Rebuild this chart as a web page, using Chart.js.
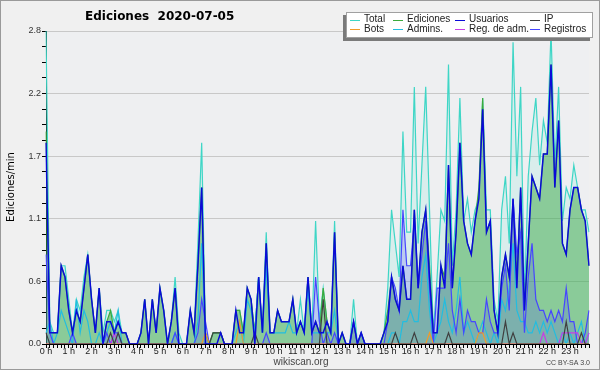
<!DOCTYPE html>
<html>
<head>
<meta charset="utf-8">
<script src="https://cdn.jsdelivr.net/npm/chart.js@4.4.1/dist/chart.umd.min.js"></script>
<style>
html, body { margin: 0; padding: 0; background: #f0f0f0; }
canvas { display: block; }
</style>
</head>
<body>
<canvas id="myLineChart" width="600" height="370"></canvas>
<script>
// etiquetas del eje x (una por hora)
const horas = ['0 h', '1 h', '2 h', '3 h', '4 h', '5 h', '6 h', '7 h', '8 h', '9 h', '10 h', '11 h',
    '12 h', '13 h', '14 h', '15 h', '16 h', '17 h', '18 h', '19 h', '20 h', '21 h', '22 h', '23 h'];
const minutos = ['00', '10', '20', '30', '40', '50'];
// etiquetas del eje y
const yLabels = ['0.0', '0.6', '1.1', '1.7', '2.2', '2.8'];
const yMax = 2.8;

// ediciones por minuto, un valor cada 10 minutos (6 por hora)
const total = [
    2.8, 0.2, 0.1, 0.1, 0.7, 0.7,
    0.4, 0.1, 0.4, 0.3, 0.6, 0.8,
    0.4, 0.1, 0.5, 0.1, 0.3, 0.3,
    0.2, 0.3, 0.1, 0.1, 0.0, 0.0,
    0.0, 0.1, 0.4, 0.0, 0.4, 0.1,
    0.5, 0.3, 0.0, 0.2, 0.6, 0.1,
    0.0, 0.0, 0.3, 0.1, 0.9, 1.8,
    0.1, 0.0, 0.1, 0.1, 0.1, 0.0,
    0.0, 0.0, 0.3, 0.3, 0.1, 0.5,
    0.4, 0.1, 0.6, 0.1, 1.0, 0.1,
    0.1, 0.3, 0.2, 0.2, 0.2, 0.4,
    0.1, 0.4, 0.1, 0.6, 0.1, 1.1,
    0.2, 0.5, 0.2, 0.1, 1.1, 0.0,
    0.1, 0.0, 0.0, 0.4, 0.0, 0.1,
    0.0, 0.0, 0.0, 0.0, 0.0, 0.1,
    0.5, 1.2, 0.9, 0.6, 1.9, 1.0,
    1.0, 2.3, 0.9, 1.6, 2.3, 1.2,
    0.1, 0.6, 1.2, 1.1, 2.5, 0.7,
    1.2, 2.2, 1.1, 1.3, 1.0, 1.2,
    1.3, 2.2, 1.2, 1.2, 0.4, 0.2,
    1.2, 1.5, 0.9, 2.7, 1.5, 2.3,
    0.4, 1.5, 1.9, 2.2, 1.6, 2.0,
    1.8, 2.8, 1.6, 2.3, 1.1, 1.4,
    1.3, 1.6, 1.4, 1.2, 1.2, 1.0
];
const ediciones = [
    1.9, 0.1, 0.1, 0.1, 0.7, 0.6,
    0.3, 0.1, 0.3, 0.2, 0.5, 0.8,
    0.4, 0.1, 0.5, 0.0, 0.2, 0.3,
    0.1, 0.2, 0.1, 0.1, 0.0, 0.0,
    0.0, 0.1, 0.4, 0.0, 0.4, 0.1,
    0.5, 0.3, 0.0, 0.2, 0.5, 0.0,
    0.0, 0.0, 0.3, 0.1, 0.7, 1.4,
    0.1, 0.0, 0.1, 0.1, 0.1, 0.0,
    0.0, 0.0, 0.3, 0.3, 0.1, 0.5,
    0.4, 0.1, 0.6, 0.1, 0.9, 0.1,
    0.1, 0.3, 0.2, 0.2, 0.2, 0.4,
    0.1, 0.2, 0.1, 0.6, 0.1, 0.2,
    0.1, 0.5, 0.2, 0.1, 1.0, 0.0,
    0.1, 0.0, 0.0, 0.2, 0.0, 0.1,
    0.0, 0.0, 0.0, 0.0, 0.0, 0.1,
    0.3, 0.6, 0.4, 0.3, 0.7, 0.4,
    0.4, 1.2, 0.5, 1.0, 1.2, 0.7,
    0.1, 0.1, 0.7, 0.6, 1.6, 0.5,
    1.0, 1.8, 1.1, 0.9, 0.8, 1.1,
    1.4, 2.2, 1.0, 1.1, 0.3, 0.1,
    0.6, 0.8, 0.6, 1.3, 0.6, 1.4,
    0.3, 0.9, 1.5, 1.4, 1.3, 1.7,
    1.7, 2.5, 1.4, 2.0, 0.9, 0.8,
    1.2, 1.4, 1.4, 1.2, 1.1, 0.7
];
const usuarios = [
    1.8, 0.1, 0.1, 0.1, 0.7, 0.6,
    0.3, 0.1, 0.3, 0.2, 0.5, 0.8,
    0.4, 0.1, 0.5, 0.0, 0.2, 0.2,
    0.1, 0.2, 0.1, 0.1, 0.0, 0.0,
    0.0, 0.1, 0.4, 0.0, 0.4, 0.1,
    0.5, 0.3, 0.0, 0.2, 0.5, 0.0,
    0.0, 0.0, 0.3, 0.1, 0.7, 1.4,
    0.0, 0.0, 0.0, 0.0, 0.1, 0.0,
    0.0, 0.0, 0.3, 0.1, 0.1, 0.5,
    0.4, 0.0, 0.6, 0.1, 0.9, 0.1,
    0.1, 0.3, 0.2, 0.2, 0.2, 0.4,
    0.1, 0.2, 0.1, 0.6, 0.1, 0.2,
    0.1, 0.1, 0.2, 0.1, 1.0, 0.0,
    0.1, 0.0, 0.0, 0.2, 0.0, 0.1,
    0.0, 0.0, 0.0, 0.0, 0.0, 0.1,
    0.2, 0.6, 0.4, 0.3, 0.7, 0.4,
    0.4, 1.2, 0.5, 1.0, 1.2, 0.6,
    0.1, 0.1, 0.7, 0.5, 1.6, 0.5,
    1.0, 1.8, 1.1, 0.9, 0.8, 1.1,
    1.3, 2.1, 1.0, 1.1, 0.3, 0.1,
    0.6, 0.8, 0.6, 1.3, 0.5, 1.4,
    0.3, 0.9, 1.5, 1.4, 1.3, 1.7,
    1.7, 2.5, 1.4, 2.0, 0.9, 0.8,
    1.2, 1.4, 1.4, 1.2, 1.1, 0.7
];
const ip = [
    0.1, 0, 0, 0, 0, 0,
    0, 0, 0, 0, 0, 0,
    0, 0, 0, 0, 0, 0.1,
    0, 0.1, 0, 0, 0, 0,
    0, 0, 0, 0, 0, 0,
    0, 0, 0, 0, 0, 0,
    0, 0, 0, 0, 0, 0,
    0, 0, 0.1, 0.1, 0.1, 0,
    0, 0, 0, 0, 0, 0,
    0, 0.1, 0, 0, 0, 0,
    0, 0, 0, 0, 0, 0,
    0, 0, 0, 0, 0, 0,
    0, 0.4, 0, 0, 0, 0,
    0, 0, 0, 0, 0, 0,
    0, 0, 0, 0, 0, 0,
    0, 0, 0.1, 0, 0, 0,
    0, 0.1, 0, 0, 0, 0,
    0, 0, 0, 0, 0.1, 0,
    0, 0, 0, 0, 0, 0,
    0, 0, 0, 0, 0, 0,
    0, 0.2, 0, 0.1, 0, 0,
    0, 0, 0, 0, 0, 0,
    0, 0, 0, 0, 0, 0.2,
    0, 0, 0, 0.1, 0, 0
];
const bots = [
    0, 0, 0, 0, 0, 0,
    0, 0, 0, 0, 0, 0,
    0, 0, 0, 0, 0, 0,
    0, 0, 0, 0, 0, 0,
    0, 0, 0, 0, 0, 0,
    0, 0, 0, 0, 0, 0,
    0, 0, 0, 0, 0, 0,
    0.1, 0, 0, 0, 0, 0,
    0, 0, 0, 0.2, 0, 0,
    0, 0, 0, 0, 0, 0,
    0, 0, 0, 0, 0, 0,
    0, 0, 0, 0, 0, 0,
    0, 0, 0, 0, 0, 0,
    0, 0, 0, 0, 0, 0,
    0, 0, 0, 0, 0, 0,
    0, 0, 0, 0, 0, 0,
    0, 0, 0, 0, 0, 0.1,
    0, 0, 0, 0, 0, 0,
    0, 0, 0, 0, 0, 0,
    0.1, 0.1, 0, 0, 0, 0,
    0, 0, 0, 0, 0, 0,
    0, 0, 0, 0, 0, 0,
    0, 0, 0, 0, 0, 0,
    0, 0, 0, 0, 0, 0
];
const admins = [
    0.1, 0.2, 0.0, 0.1, 0.3, 0.2,
    0.1, 0.0, 0.4, 0.1, 0.3, 0.2,
    0.0, 0.0, 0.1, 0.0, 0.1, 0.2,
    0.1, 0.3, 0.0, 0.0, 0.0, 0.0,
    0, 0, 0, 0, 0, 0,
    0, 0, 0, 0, 0.1, 0,
    0, 0, 0, 0, 0.2, 0.9,
    0, 0, 0, 0, 0, 0,
    0, 0, 0.1, 0.2, 0, 0.4,
    0.3, 0.1, 0.6, 0.1, 0.7, 0.1,
    0.1, 0.1, 0.1, 0.1, 0.2, 0.1,
    0.1, 0.2, 0.1, 0.5, 0.1, 0.1,
    0.1, 0.1, 0.1, 0.1, 0.3, 0,
    0, 0, 0, 0, 0, 0,
    0, 0, 0, 0, 0, 0,
    0, 0.1, 0.1, 0, 0.2, 0.2,
    0.3, 0.2, 0.2, 0.6, 0.8, 0.3,
    0, 0.1, 0.2, 0.4, 0.2, 0.1,
    0.3, 0.6, 0.1, 0.2, 0.1, 0,
    0.1, 0.2, 0.1, 0, 0.1, 0,
    0.4, 0.3, 0.5, 0.9, 0.3, 0.2,
    0.2, 0.1, 0.1, 0.2, 0.1, 0.2,
    0.1, 0.2, 0.1, 0, 0.1, 0,
    0.1, 0, 0.1, 0.2, 0, 0.1
];
const regAdm = [
    0, 0, 0, 0, 0, 0,
    0, 0, 0, 0, 0, 0,
    0, 0, 0, 0, 0, 0,
    0.1, 0, 0, 0, 0, 0,
    0, 0, 0, 0, 0, 0,
    0, 0, 0, 0, 0, 0,
    0, 0, 0, 0, 0, 0,
    0, 0, 0, 0, 0, 0,
    0, 0, 0, 0, 0, 0,
    0, 0, 0, 0, 0, 0,
    0, 0, 0, 0, 0, 0,
    0, 0, 0, 0, 0, 0,
    0, 0, 0, 0, 0, 0,
    0, 0, 0, 0, 0, 0,
    0, 0, 0, 0, 0, 0,
    0, 0, 0, 0, 0, 0,
    0, 0, 0, 0, 0, 0,
    0, 0, 0, 0, 0, 0,
    0, 0, 0, 0, 0, 0,
    0, 0, 0, 0, 0, 0,
    0, 0, 0, 0, 0, 0,
    0, 0, 0, 0, 0, 0.1,
    0, 0, 0, 0, 0.1, 0.1,
    0.1, 0.1, 0.1, 0, 0, 0.1
];
const registros = [
    0.8, 0.1, 0, 0, 0, 0,
    0, 0.1, 0, 0, 0, 0,
    0, 0, 0, 0, 0.1, 0,
    0.1, 0.1, 0, 0, 0, 0,
    0, 0, 0, 0, 0, 0,
    0, 0, 0, 0, 0.1, 0,
    0, 0, 0, 0, 0.1, 0.4,
    0.2, 0, 0, 0, 0, 0,
    0, 0, 0, 0, 0, 0,
    0, 0, 0, 0, 0.1, 0,
    0, 0, 0, 0, 0, 0,
    0, 0, 0, 0, 0, 0.6,
    0.2, 0, 0.1, 0, 0.1, 0,
    0, 0, 0, 0.2, 0, 0.1,
    0, 0, 0, 0, 0, 0,
    0.2, 0.6, 0.5, 0.3, 1.2, 0.7,
    0.7, 1.1, 0.5, 0.8, 1.1, 0.5,
    0, 0.5, 0.5, 0.5, 0.9, 0.3,
    0.1, 0.4, 0.1, 0.3, 0.2, 0.2,
    0.1, 0.1, 0.4, 0.2, 0.1, 0.1,
    0.5, 0.7, 0.3, 1.3, 0.8, 1.0,
    0.1, 0.6, 0.9, 0.4, 0.3, 0.3,
    0.2, 0.3, 0.2, 0.3, 0.2, 0.5,
    0.2, 0.2, 0, 0, 0.1, 0.3
];

const tiempos = [];
horas.forEach((h, i) => {
    minutos.forEach(m => tiempos.push(i + ':' + m));
});
const yTicks = [];
for (let i = 0; i <= 20; i++) {
    yTicks.push(yMax * i / 20);
}

const colores = {
    total: '#3ed6c6',
    ediciones: '#3caa3c',
    usuarios: '#0a0ad8',
    ip: '#404040',
    bots: '#f09a2a',
    admins: '#22bde0',
    regAdm: '#c83ce6',
    registros: '#4646ff'
};
// orden de la leyenda (2 filas x 4 columnas)
const leyenda = [
    ['Total', colores.total], ['Ediciones', colores.ediciones], ['Usuarios', colores.usuarios], ['IP', colores.ip],
    ['Bots', colores.bots], ['Admins.', colores.admins], ['Reg. de adm.', colores.regAdm], ['Registros', colores.registros]
];

function linea(label, data, color, order, extra) {
    return Object.assign({
        label: label,
        data: data,
        borderColor: color,
        backgroundColor: color,
        borderWidth: 1.2,
        pointRadius: 0,
        tension: 0,
        fill: false,
        order: order
    }, extra || {});
}

const decor = {
    id: 'decor',
    beforeDraw(chart) {
        const c = chart.ctx;
        const a = chart.chartArea;
        c.save();
        c.fillStyle = '#f0f0f0';
        c.fillRect(0, 0, chart.width, chart.height);
        c.fillStyle = '#eeeff1';
        c.fillRect(a.left, a.top, a.right - a.left, a.bottom - a.top);
        c.restore();
    },
    afterDraw(chart) {
        const c = chart.ctx;
        c.save();
        // borde exterior
        c.strokeStyle = '#9a9a9a';
        c.lineWidth = 1;
        c.strokeRect(0.5, 0.5, chart.width - 1, chart.height - 1);
        // titulo
        c.fillStyle = '#000';
        c.font = 'bold 12px "DejaVu Sans"';
        c.textBaseline = 'middle';
        c.textAlign = 'left';
        c.fillText('Ediciones  2020-07-05', 85, 17);
        // titulo eje y
        c.save();
        c.translate(11, 187);
        c.rotate(-Math.PI / 2);
        c.textAlign = 'center';
        c.font = '10px "DejaVu Sans"';
        c.fillText('Ediciones/min', 0, 0);
        c.restore();
        // pie
        c.fillStyle = '#444';
        c.textAlign = 'center';
        c.font = '10px "Liberation Sans"';
        c.fillText('wikiscan.org', 301, 362);
        c.font = '7px "Liberation Sans"';
        c.textAlign = 'right';
        c.fillText('CC BY-SA 3.0', 590, 363);
        // leyenda
        const bx = 346, by = 12, bw = 247, bh = 26;
        c.fillStyle = '#7a7a7a';
        c.fillRect(bx - 3, by + 3, bw, bh);
        c.fillStyle = '#fff';
        c.fillRect(bx, by, bw, bh);
        c.strokeStyle = '#a0a0a0';
        c.strokeRect(bx + 0.5, by + 0.5, bw - 1, bh - 1);
        const colX = [350, 393, 455, 530];
        const rowY = [19.5, 29];
        c.font = '10px "Liberation Sans"';
        c.textAlign = 'left';
        leyenda.forEach((item, i) => {
            const x = colX[i % 4];
            const y = rowY[Math.floor(i / 4)];
            c.strokeStyle = item[1];
            c.lineWidth = 1;
            c.beginPath();
            c.moveTo(x, Math.round(y) + 0.5);
            c.lineTo(x + 10, Math.round(y) + 0.5);
            c.stroke();
            c.fillStyle = '#222';
            c.fillText(item[0], x + 14, y);
        });
        c.restore();
    }
};

const ctx = document.getElementById('myLineChart').getContext('2d');
const myLineChart = new Chart(ctx, {
    type: 'line',
    data: {
        labels: tiempos,
        datasets: [
            linea('Usuarios', usuarios, colores.usuarios, 1, { borderWidth: 1.5 }),
            linea('IP', ip, colores.ip, 2),
            linea('Bots', bots, colores.bots, 3),
            linea('Reg. de adm.', regAdm, colores.regAdm, 4),
            linea('Registros', registros, colores.registros, 5, { fill: 'origin', backgroundColor: 'rgba(70,70,255,0.2)' }),
            linea('Admins.', admins, colores.admins, 6),
            linea('Ediciones', ediciones, colores.ediciones, 7, { fill: 'origin', backgroundColor: 'rgba(60,170,70,0.5)' }),
            linea('Total', total, colores.total, 8, { fill: 'origin', backgroundColor: 'rgba(64,220,205,0.12)' })
        ]
    },
    options: {
        responsive: false,
        animation: false,
        devicePixelRatio: 1,
        layout: { padding: { top: 31, right: 11, left: 0, bottom: 0 } },
        plugins: {
            legend: { display: false },
            title: { display: false },
            tooltip: { enabled: false },
            filler: { drawTime: 'beforeDatasetsDraw' }
        },
        scales: {
            x: {
                offset: false,
                afterFit: s => { s.height = 26; },
                border: { display: true, color: '#000', width: 1 },
                grid: { drawOnChartArea: false, drawTicks: true, tickLength: 4, color: '#000', tickColor: '#000' },
                ticks: {
                    autoSkip: false,
                    maxRotation: 0,
                    padding: -2,
                    color: '#222',
                    font: { family: 'Liberation Sans', size: 9 },
                    callback: (v, i) => (i % 6 === 0 ? horas[i / 6] : '')
                }
            },
            y: {
                min: 0,
                max: yMax,
                afterFit: s => { s.width = 46; },
                afterBuildTicks: s => { s.ticks = yTicks.map(v => ({ value: v })); },
                border: { display: true, color: '#000', width: 1 },
                grid: {
                    tickLength: 4,
                    color: c => (c.index % 4 === 0 && c.index > 0 ? '#c8c8c8' : 'rgba(0,0,0,0)'),
                    tickColor: '#000'
                },
                ticks: {
                    padding: 1,
                    color: '#333',
                    font: { family: 'Liberation Sans', size: 9 },
                    callback: (v, i) => (i % 4 === 0 ? yLabels[i / 4] : '')
                }
            }
        }
    },
    plugins: [decor]
});
</script>
</body>
</html>
